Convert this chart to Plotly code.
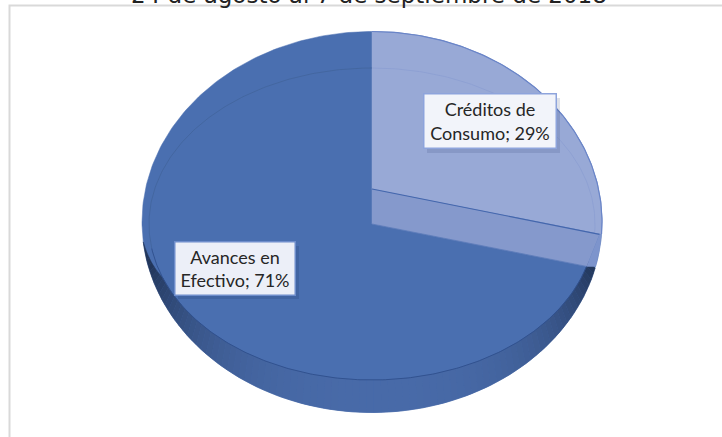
import numpy as np
import plotly.graph_objects as go

categories = ["Avances en<br>Efectivo", "Créditos de<br>Consumo"]
shares = [71, 29]
title_text = "24 de agosto al 7 de septiembre de 2018"

# projection of the tilted disc onto the page
CX = 372.0
OUT_CY, OUT_RX, OUT_RY = 222.0, 230.0, 190.5   # silhouette
IN_CY, IN_RX, IN_RY = 224.0, 223.0, 156.0      # rim line
APEX_Y, DEPTH = 189.0, 35.0
DISC_RX, DISC_RY = 230.0, 177.0

FACE = "#4a6fb0"
LIGHT = "#98a9d6"
BAND = "#8599cc"


def on_ellipse(a, cy, rx, ry):
    """a = clockwise angle from 12 o'clock, in radians."""
    return CX + rx * np.sin(a), cy - ry * np.cos(a)


def ray_hit(theta, y0, cy, rx, ry):
    dx, dy = DISC_RX * np.sin(theta), -DISC_RY * np.cos(theta)
    A = (dx / rx) ** 2 + (dy / ry) ** 2
    B = 2 * (y0 - cy) * dy / ry ** 2
    C = ((y0 - cy) / ry) ** 2 - 1
    s = (-B + np.sqrt(B * B - 4 * A * C)) / (2 * A)
    return CX + s * dx, y0 + s * dy


def mix(c1, c2, f):
    a = [int(c1[i:i + 2], 16) for i in (1, 3, 5)]
    b = [int(c2[i:i + 2], 16) for i in (1, 3, 5)]
    return "#%02x%02x%02x" % tuple(round(p + (q - p) * f) for p, q in zip(a, b))


fig = go.Figure()


def poly(x, y, fill, line=None, width=0.0):
    fig.add_trace(go.Scatter(x=list(x), y=list(y), mode="lines", fill="toself", fillcolor=fill,
                             line=dict(color=line or fill, width=width), hoverinfo="skip", showlegend=False))


def path(x, y, color, width=1.0):
    fig.add_trace(go.Scatter(x=list(x), y=list(y), mode="lines", line=dict(color=color, width=width),
                             hoverinfo="skip", showlegend=False))


# chart frame
path([9.5, 9.5, 722], [437, 5.5, 5.5], "#d9d9d9", 2)

# whole silhouette
t = np.linspace(0, 2 * np.pi, 361)
ox, oy = on_ellipse(t, OUT_CY, OUT_RX, OUT_RY)
poly(ox, oy, FACE, FACE, 0.5)

# front wall, shaded towards both ends, tapering out on the left
phis = np.radians(np.linspace(-84, 76, 90))
for p0, p1 in zip(phis[:-1], phis[1:]):
    ph = np.linspace(p0, p1, 3)
    a = np.pi - ph
    ix, iy = on_ellipse(a, IN_CY, IN_RX, IN_RY)
    ux, uy = on_ellipse(a, OUT_CY, OUT_RX, OUT_RY)
    g = np.clip((np.degrees(ph) + 84) / 14, 0, 1)
    ix = ux + (ix - ux) * g
    iy = uy + (iy - uy) * g
    m = np.degrees((p0 + p1) / 2)
    if m < 0:
        f = min(1.0, (-m) / 76) ** 2.4
    else:
        f = min(1.0, m / 76) ** 2.6
    col = mix("#486aa8", "#22365a", f)
    poly(np.r_[ix, ux[::-1]], np.r_[iy, uy[::-1]], col, col, 0.5)

theta = 2 * np.pi * shares[1] / sum(shares)

# light slice: top face
ex, ey = ray_hit(theta, APEX_Y, OUT_CY, OUT_RX, OUT_RY)
end_a = np.arctan2(ex - CX, -(ey - OUT_CY) * OUT_RX / OUT_RY)
arc = np.linspace(0, end_a, 120)
ax_, ay_ = on_ellipse(arc, OUT_CY, OUT_RX, OUT_RY)
poly(np.r_[CX, ax_, CX], np.r_[APEX_Y, ay_, APEX_Y], LIGHT, LIGHT, 0.5)
path(ax_, ay_, "#6a85c8", 1.2)

# light slice: cut face
bx, by = ray_hit(theta, APEX_Y + DEPTH, IN_CY, IN_RX, IN_RY)
poly([CX, ex - 2, bx, CX, CX], [APEX_Y, ey, by, APEX_Y + DEPTH, APEX_Y], BAND, BAND, 0.5)

# sliver at the end of the cut face
end_b = np.arctan2(bx + 8 - CX, -(by - OUT_CY) * OUT_RX / OUT_RY)
arc2 = np.linspace(end_a, end_b, 20)
sx, sy = on_ellipse(arc2, OUT_CY, OUT_RX, OUT_RY)
poly(np.r_[ex - 2, sx, bx], np.r_[ey, sy, by], "#7d94cc", "#7d94cc", 0.5)

# rim line: pale over the small slice, dark over the big one, darkest along the wall
rim_end = np.arctan2(ex - 4 - CX, -(ey - IN_CY) * IN_RX / IN_RY)
ra = np.linspace(0, rim_end, 100)
rx_, ry_ = on_ellipse(ra, IN_CY, IN_RX, IN_RY)
path(rx_, ry_, "#8c9ed2", 0.8)
rb_end = np.arctan2(bx - CX, -(by - IN_CY) * IN_RX / IN_RY)
rb = np.linspace(rb_end, np.radians(261), 240)
rx2, ry2 = on_ellipse(rb, IN_CY, IN_RX, IN_RY)
path(rx2, ry2, "#2f4f8c", 0.9)
rc = np.linspace(np.radians(261), 2 * np.pi, 120)
rx3, ry3 = on_ellipse(rc, IN_CY, IN_RX, IN_RY)
path(rx3, ry3, "#416399", 0.7)

# slice edge lines
path([CX, ex - 2], [APEX_Y, ey], "#4467ad", 1.2)
path([CX, bx], [APEX_Y + DEPTH, by], "#4a6eb0", 0.5)

# label shadows
fig.add_shape(type="rect", x0=427, x1=560, y0=98, y1=153, fillcolor="rgba(50,70,120,0.16)", line_width=0, layer="above")
fig.add_shape(type="rect", x0=178, x1=299, y0=246, y1=299, fillcolor="rgba(30,50,100,0.18)", line_width=0, layer="above")

pct = [f"{c}; {s}%" for c, s in zip(categories, shares)]
fig.add_annotation(x=489.5, y=121, xref="x", yref="y", text=pct[1], showarrow=False, width=131, height=53,
                   font=dict(family="Lato", size=18, color="#262626"), bgcolor="#f2f4fa",
                   bordercolor="#8ea4dc", borderwidth=1.5, borderpad=0, align="center", valign="middle")
fig.add_annotation(x=234.5, y=268.5, xref="x", yref="y", text=pct[0], showarrow=False, width=119, height=52,
                   font=dict(family="Lato", size=18, color="#262626"), bgcolor="#eceff8",
                   bordercolor="#6e8dcb", borderwidth=1.5, borderpad=0, align="center", valign="middle")
fig.add_annotation(x=369, y=9, xref="x", yref="y", text=title_text, showarrow=False, yanchor="bottom",
                   font=dict(family="DejaVu Sans", size=23, color="#222222"), borderpad=0)

fig.update_layout(width=722, height=437, margin=dict(l=0, r=0, t=0, b=0), autosize=False,
                  paper_bgcolor="white", plot_bgcolor="white", showlegend=False,
                  xaxis=dict(range=[0, 722], visible=False, fixedrange=True),
                  yaxis=dict(range=[437, 0], visible=False, fixedrange=True))
fig.write_html("out.html", config=dict(displayModeBar=False),
               post_script="document.body.style.margin='0';")
